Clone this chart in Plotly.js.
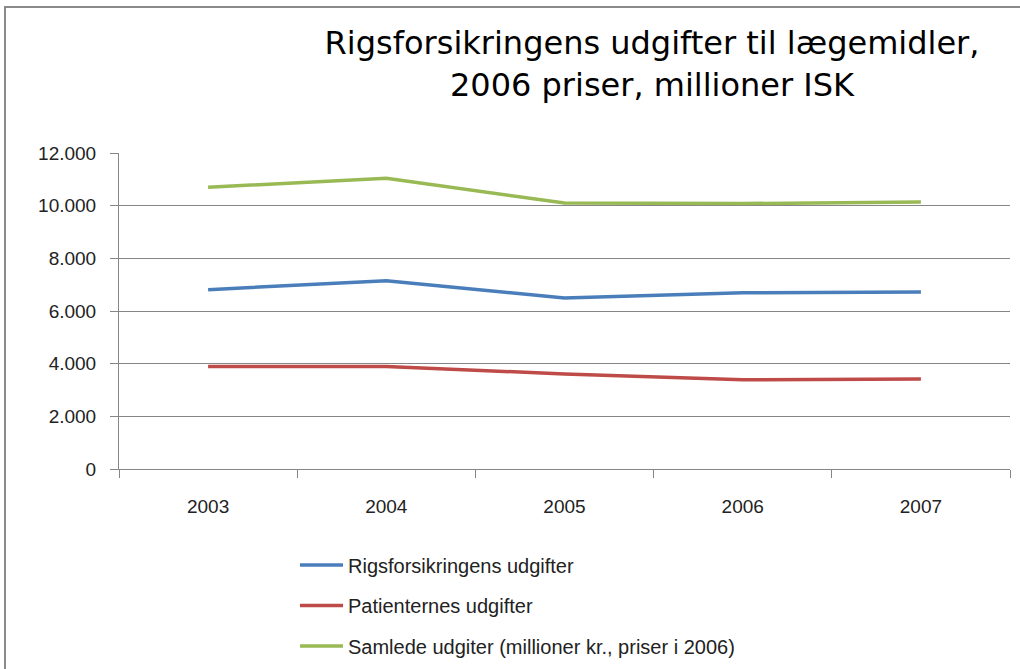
<!DOCTYPE html>
<html>
<head>
<meta charset="utf-8">
<script src="https://cdn.plot.ly/plotly-3.0.1.min.js"></script>
<style>
  html, body { margin: 0; padding: 0; background: #ffffff; }
  #chart { width: 1020px; height: 669px; }
</style>
</head>
<body>
<div id="chart"></div>
<script>
const years = ['2003', '2004', '2005', '2006', '2007'];
const seriesNames = [
  'Rigsforsikringens udgifter',
  'Patienternes udgifter',
  'Samlede udgiter (millioner kr., priser i 2006)'
];
const rigsforsikringen = [6810, 7150, 6490, 6690, 6720];
const patienterne = [3890, 3890, 3610, 3390, 3420];
const samlede = [10700, 11040, 10100, 10080, 10140];
const seriesColors = ['#4A7EBB', '#BE4B48', '#98B954'];
const titleText = 'Rigsforsikringens udgifter til lægemidler,<br>2006 priser, millioner ISK';

const W = 1020, H = 669;
const M = { l: 119, r: 10, t: 153, b: 200, autoexpand: false };
const pw = W - M.l - M.r, ph = H - M.t - M.b;
const px2x = p => (p - M.l) / pw;
const py2y = p => (H - M.b - p) / ph;

const values = [rigsforsikringen, patienterne, samlede];
const traces = values.map((v, i) => ({
  type: 'scatter',
  mode: 'lines',
  x: years,
  y: v,
  name: seriesNames[i],
  legendgroup: 'g' + i,
  line: { color: seriesColors[i], width: 3.5 },
  hoverinfo: 'x+y+name'
}));

const axisGrey = '#868686';
const layout = {
  width: W,
  height: H,
  margin: M,
  paper_bgcolor: '#ffffff',
  plot_bgcolor: '#ffffff',
  separators: ',.',
  showlegend: true,
  title: {
    text: titleText,
    font: { family: 'DejaVu Sans', size: 32, color: '#000000' },
    xref: 'container',
    yref: 'container',
    x: 652 / W,
    xanchor: 'center',
    y: 1 - 54 / H,
    yanchor: 'middle'
  },
  xaxis: {
    type: 'category',
    range: [-0.5, 4.5],
    tickson: 'boundaries',
    ticks: 'outside',
    ticklen: 8,
    tickcolor: axisGrey,
    tickwidth: 1,
    showline: true,
    linecolor: axisGrey,
    linewidth: 1,
    showgrid: false,
    zeroline: false,
    automargin: false,
    ticklabelstandoff: 20,
    tickfont: { family: 'Liberation Sans, Arial, sans-serif', size: 19, color: '#222222' },
    fixedrange: true
  },
  yaxis: {
    range: [0, 12000],
    dtick: 2000,
    tick0: 0,
    tickformat: ',d',
    ticks: 'outside',
    ticklen: 8,
    tickcolor: axisGrey,
    tickwidth: 1,
    showline: true,
    linecolor: axisGrey,
    linewidth: 1,
    showgrid: true,
    gridcolor: axisGrey,
    gridwidth: 1,
    zeroline: false,
    automargin: false,
    ticklabelstandoff: 10,
    tickfont: { family: 'Liberation Sans, Arial, sans-serif', size: 19, color: '#222222' },
    fixedrange: true
  },
  legend: {
    orientation: 'v',
    x: px2x(295),
    xanchor: 'left',
    y: py2y(545.5),
    yanchor: 'top',
    itemwidth: 43,
    traceorder: 'grouped',
    tracegroupgap: 11.5,
    bgcolor: 'rgba(0,0,0,0)',
    borderwidth: 0,
    font: { family: 'Liberation Sans, Arial, sans-serif', size: 20, color: '#222222' }
  },
  shapes: [{
    type: 'rect',
    xref: 'paper', yref: 'paper',
    x0: px2x(5), x1: px2x(1040),
    y0: py2y(690), y1: py2y(7),
    line: { color: '#8a8a8a', width: 2 },
    fillcolor: 'rgba(0,0,0,0)',
    layer: 'below'
  }]
};

Plotly.newPlot('chart', traces, layout, { displayModeBar: false, staticPlot: false });
</script>
</body>
</html>
